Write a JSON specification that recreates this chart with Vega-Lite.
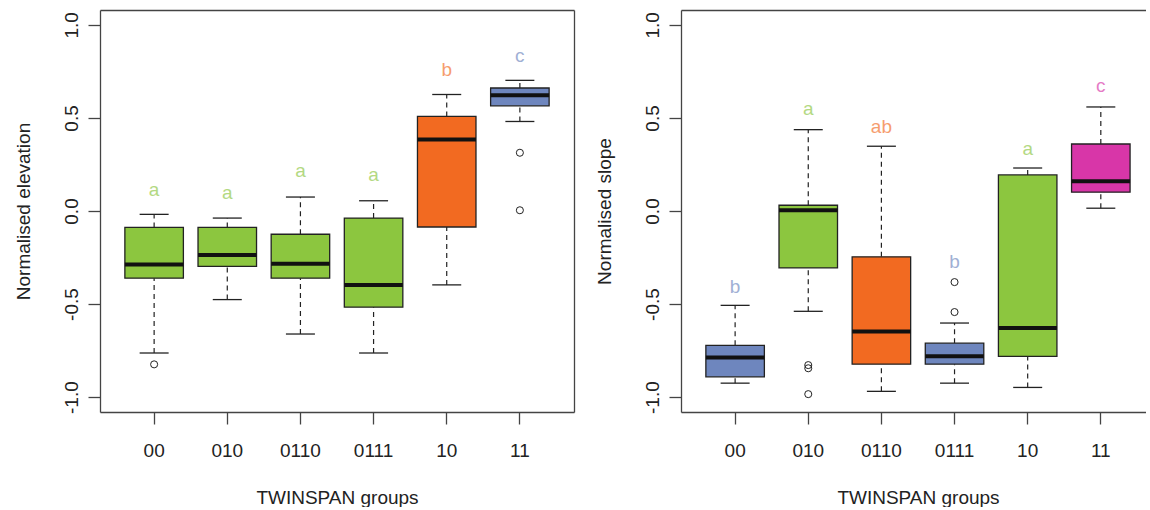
{
  "$schema": "https://vega.github.io/schema/vega-lite/v6.json",
  "padding": {"left": 14, "top": 10, "right": 0, "bottom": 0},
  "background": "white",
  "config": {
    "font": "Liberation Sans",
    "view": {"stroke": null},
    "axis": {
      "labelFont": "Liberation Sans", "titleFont": "Liberation Sans",
      "labelFontSize": 19, "titleFontSize": 19, "titleFontWeight": "normal",
      "labelColor": "#222", "titleColor": "#222",
      "domainColor": "#444", "tickColor": "#444", "domainWidth": 1.3, "tickWidth": 1.3,
      "tickSize": 12, "grid": false, "labelOverlap": false, "labelBound": false
    }
  },
  "datasets": {
    "elev": [
      {"group": "00", "lo": -0.763, "q1": -0.361, "med": -0.288, "q3": -0.088, "hi": -0.018, "letter": "a", "letter_y": 0.114},
      {"group": "010", "lo": -0.476, "q1": -0.297, "med": -0.236, "q3": -0.088, "hi": -0.038, "letter": "a", "letter_y": 0.095},
      {"group": "0110", "lo": -0.661, "q1": -0.361, "med": -0.284, "q3": -0.125, "hi": 0.075, "letter": "a", "letter_y": 0.213},
      {"group": "0111", "lo": -0.763, "q1": -0.517, "med": -0.397, "q3": -0.038, "hi": 0.055, "letter": "a", "letter_y": 0.193},
      {"group": "10", "lo": -0.397, "q1": -0.086, "med": 0.384, "q3": 0.508, "hi": 0.626, "letter": "b", "letter_y": 0.758},
      {"group": "11", "lo": 0.481, "q1": 0.565, "med": 0.622, "q3": 0.661, "hi": 0.702, "letter": "c", "letter_y": 0.833}
    ],
    "elevOut": [
      {"group": "00", "value": -0.824},
      {"group": "11", "value": 0.313},
      {"group": "11", "value": 0.004}
    ],
    "slope": [
      {"group": "00", "lo": -0.925, "q1": -0.891, "med": -0.787, "q3": -0.722, "hi": -0.507, "letter": "b", "letter_y": -0.41},
      {"group": "010", "lo": -0.539, "q1": -0.306, "med": 0.004, "q3": 0.031, "hi": 0.437, "letter": "a", "letter_y": 0.548},
      {"group": "0110", "lo": -0.969, "q1": -0.823, "med": -0.647, "q3": -0.246, "hi": 0.348, "letter": "ab", "letter_y": 0.45},
      {"group": "0111", "lo": -0.925, "q1": -0.823, "med": -0.781, "q3": -0.71, "hi": -0.602, "letter": "b", "letter_y": -0.274},
      {"group": "10", "lo": -0.948, "q1": -0.781, "med": -0.629, "q3": 0.194, "hi": 0.231, "letter": "a", "letter_y": 0.333},
      {"group": "11", "lo": 0.015, "q1": 0.101, "med": 0.16, "q3": 0.36, "hi": 0.559, "letter": "c", "letter_y": 0.67}
    ],
    "slopeOut": [
      {"group": "010", "value": -0.828},
      {"group": "010", "value": -0.845},
      {"group": "010", "value": -0.984},
      {"group": "0111", "value": -0.382},
      {"group": "0111", "value": -0.543}
    ]
  },
  "spacing": 107,
  "bounds": "flush",
  "resolve": {"scale": {"x": "independent", "y": "independent", "color": "independent"}},
  "hconcat": [
    {
      "width": 474,
      "height": 402,
      "data": {"name": "elev"},
      "resolve": {"axis": {"x": "independent", "y": "independent"}},
      "layer": [
        {
          "mark": {"type": "rule", "strokeDash": [5, 4], "color": "#222", "strokeWidth": 1.2},
          "encoding": {
            "x": {"field": "group", "type": "nominal",
              "scale": {"type": "band", "domain": ["00", "010", "0110", "0111", "10", "11"], "paddingInner": 0.2, "paddingOuter": 0.34, "round": false},
              "axis": {"orient": "bottom", "title": "TWINSPAN groups", "labelAngle": 0, "labelPadding": 17, "labelBaseline": "top", "bandPosition": 0.5, "titleX": 237, "titleY": 91, "titleBaseline": "alphabetic", "titleAlign": "center"}},
            "y": {"field": "lo", "type": "quantitative",
              "scale": {"domain": [-1.08, 1.08], "nice": false, "zero": false},
              "axis": {"orient": "left", "title": "Normalised elevation", "values": [-1, -0.5, 0, 0.5, 1],
                "labelExpr": "datum.value < 0 ? '-' + format(-datum.value, '.1f') : format(datum.value, '.1f')",
                "labelAngle": 270, "labelAlign": "center", "labelBaseline": "alphabetic", "labelPadding": 11,
                "titleAngle": 270, "titleX": -71, "titleY": 201, "titleAlign": "center", "titleBaseline": "alphabetic"}},
            "y2": {"field": "q1"}
          }
        },
        {
          "mark": {"type": "rule", "strokeDash": [5, 4], "color": "#222", "strokeWidth": 1.2},
          "encoding": {
            "x": {"field": "group", "type": "nominal", "axis": null},
            "y": {"field": "q3", "type": "quantitative", "axis": null},
            "y2": {"field": "hi"}
          }
        },
        {
          "mark": {"type": "bar", "stroke": "#222", "strokeWidth": 1.3, "opacity": 1},
          "encoding": {
            "x": {"field": "group", "type": "nominal", "axis": null},
            "y": {"field": "q1", "type": "quantitative", "axis": null},
            "y2": {"field": "q3"},
            "color": {"field": "letter", "type": "nominal", "scale": {"domain": ["a", "b", "c"], "range": ["#8CC63F", "#F26A21", "#6E86BE"]}, "legend": null}
          }
        },
        {
          "mark": {"type": "tick", "orient": "horizontal", "size": 58.5, "thickness": 4, "color": "#111", "opacity": 1},
          "encoding": {
            "x": {"field": "group", "type": "nominal", "axis": null},
            "y": {"field": "med", "type": "quantitative", "axis": null}
          }
        },
        {
          "mark": {"type": "tick", "orient": "horizontal", "size": 29, "thickness": 1.3, "color": "#222", "opacity": 1},
          "encoding": {
            "x": {"field": "group", "type": "nominal", "axis": null},
            "y": {"field": "lo", "type": "quantitative", "axis": null}
          }
        },
        {
          "mark": {"type": "tick", "orient": "horizontal", "size": 29, "thickness": 1.3, "color": "#222", "opacity": 1},
          "encoding": {
            "x": {"field": "group", "type": "nominal", "axis": null},
            "y": {"field": "hi", "type": "quantitative", "axis": null}
          }
        },
        {
          "data": {"name": "elevOut"},
          "mark": {"type": "point", "shape": "circle", "filled": false, "size": 50, "color": "#222", "strokeWidth": 1, "opacity": 1},
          "encoding": {
            "x": {"field": "group", "type": "nominal", "axis": null},
            "y": {"field": "value", "type": "quantitative", "axis": null}
          }
        },
        {
          "mark": {"type": "text", "fontSize": 19, "baseline": "middle", "align": "center", "opacity": 0.65, "font": "Liberation Sans"},
          "encoding": {
            "x": {"field": "group", "type": "nominal", "axis": {"orient": "top", "labels": false, "ticks": false, "title": null, "domain": true}},
            "y": {"field": "letter_y", "type": "quantitative", "axis": {"orient": "right", "labels": false, "ticks": false, "title": null, "domain": true}},
            "text": {"field": "letter"},
            "color": {"field": "letter", "type": "nominal", "legend": null}
          }
        }
      ]
    },
    {
      "width": 465,
      "height": 402,
      "data": {"name": "slope"},
      "resolve": {"axis": {"x": "independent", "y": "independent"}},
      "layer": [
        {
          "mark": {"type": "rule", "strokeDash": [5, 4], "color": "#222", "strokeWidth": 1.2},
          "encoding": {
            "x": {"field": "group", "type": "nominal",
              "scale": {"type": "band", "domain": ["00", "010", "0110", "0111", "10", "11"], "paddingInner": 0.2, "paddingOuter": 0.2789, "align": 0.6095, "round": false},
              "axis": {"orient": "bottom", "title": "TWINSPAN groups", "labelAngle": 0, "labelPadding": 17, "labelBaseline": "top", "bandPosition": 0.5, "titleX": 237, "titleY": 91, "titleBaseline": "alphabetic", "titleAlign": "center"}},
            "y": {"field": "lo", "type": "quantitative",
              "scale": {"domain": [-1.08, 1.08], "nice": false, "zero": false},
              "axis": {"orient": "left", "title": "Normalised slope", "values": [-1, -0.5, 0, 0.5, 1],
                "labelExpr": "datum.value < 0 ? '-' + format(-datum.value, '.1f') : format(datum.value, '.1f')",
                "labelAngle": 270, "labelAlign": "center", "labelBaseline": "alphabetic", "labelPadding": 11,
                "titleAngle": 270, "titleX": -71, "titleY": 201, "titleAlign": "center", "titleBaseline": "alphabetic"}},
            "y2": {"field": "q1"}
          }
        },
        {
          "mark": {"type": "rule", "strokeDash": [5, 4], "color": "#222", "strokeWidth": 1.2},
          "encoding": {
            "x": {"field": "group", "type": "nominal", "axis": null},
            "y": {"field": "q3", "type": "quantitative", "axis": null},
            "y2": {"field": "hi"}
          }
        },
        {
          "mark": {"type": "bar", "stroke": "#222", "strokeWidth": 1.3, "opacity": 1},
          "encoding": {
            "x": {"field": "group", "type": "nominal", "axis": null},
            "y": {"field": "q1", "type": "quantitative", "axis": null},
            "y2": {"field": "q3"},
            "color": {"field": "letter", "type": "nominal", "scale": {"domain": ["a", "ab", "b", "c"], "range": ["#8CC63F", "#F26A21", "#6E86BE", "#D836A8"]}, "legend": null}
          }
        },
        {
          "mark": {"type": "tick", "orient": "horizontal", "size": 58.5, "thickness": 4, "color": "#111", "opacity": 1},
          "encoding": {
            "x": {"field": "group", "type": "nominal", "axis": null},
            "y": {"field": "med", "type": "quantitative", "axis": null}
          }
        },
        {
          "mark": {"type": "tick", "orient": "horizontal", "size": 29, "thickness": 1.3, "color": "#222", "opacity": 1},
          "encoding": {
            "x": {"field": "group", "type": "nominal", "axis": null},
            "y": {"field": "lo", "type": "quantitative", "axis": null}
          }
        },
        {
          "mark": {"type": "tick", "orient": "horizontal", "size": 29, "thickness": 1.3, "color": "#222", "opacity": 1},
          "encoding": {
            "x": {"field": "group", "type": "nominal", "axis": null},
            "y": {"field": "hi", "type": "quantitative", "axis": null}
          }
        },
        {
          "data": {"name": "slopeOut"},
          "mark": {"type": "point", "shape": "circle", "filled": false, "size": 50, "color": "#222", "strokeWidth": 1, "opacity": 1},
          "encoding": {
            "x": {"field": "group", "type": "nominal", "axis": null},
            "y": {"field": "value", "type": "quantitative", "axis": null}
          }
        },
        {
          "mark": {"type": "text", "fontSize": 19, "baseline": "middle", "align": "center", "opacity": 0.65, "font": "Liberation Sans"},
          "encoding": {
            "x": {"field": "group", "type": "nominal", "axis": {"orient": "top", "labels": false, "ticks": false, "title": null, "domain": true}},
            "y": {"field": "letter_y", "type": "quantitative", "axis": null},
            "text": {"field": "letter"},
            "color": {"field": "letter", "type": "nominal", "legend": null}
          }
        }
      ]
    }
  ]
}
